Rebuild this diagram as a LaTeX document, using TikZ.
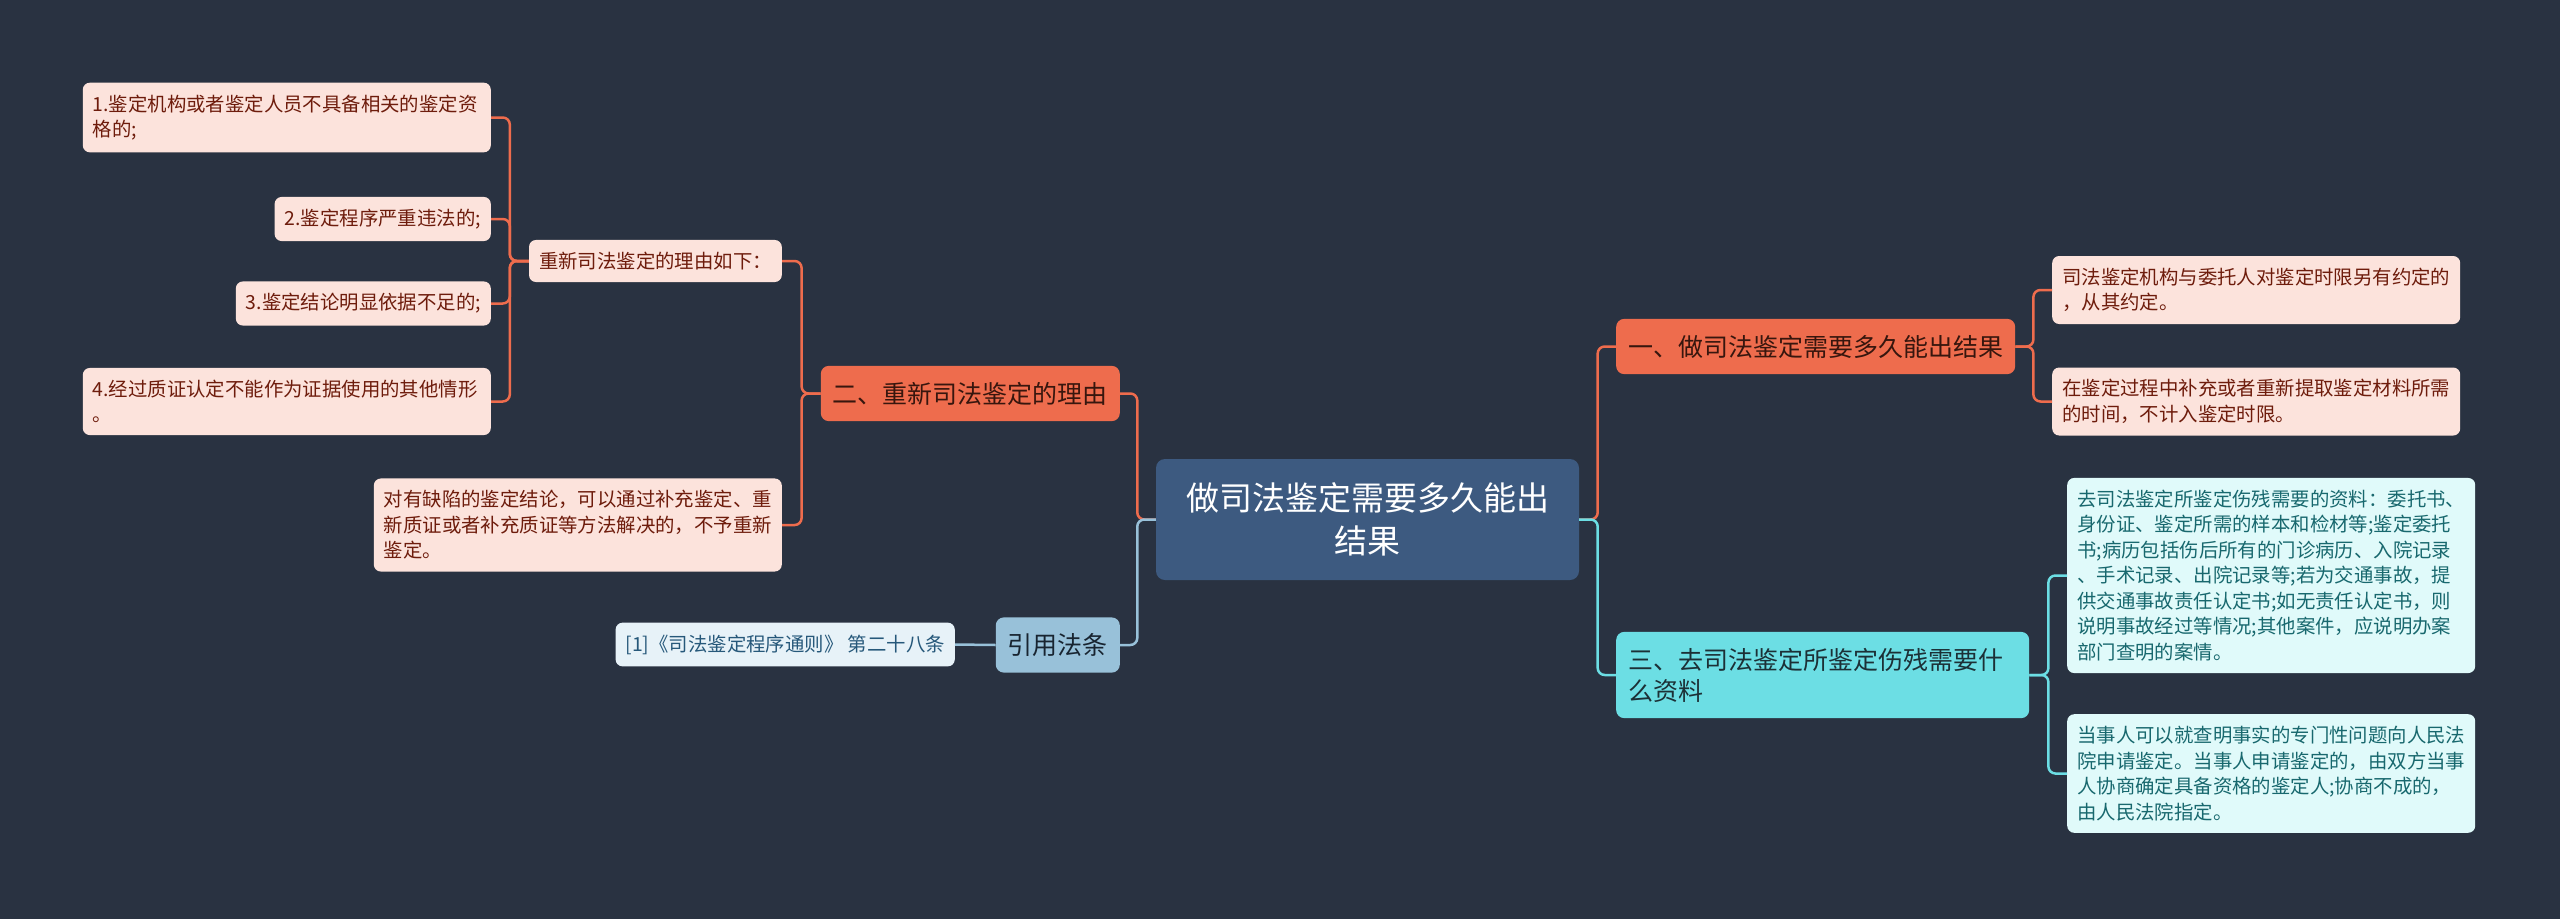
\documentclass[tikz,border=0pt]{standalone}
\usepackage{fontspec}
\setmainfont{Noto Sans CJK SC}
\usetikzlibrary{positioning, calc}
\definecolor{mapbg}{RGB}{41, 50, 65}
\definecolor{rootblue}{RGB}{61, 90, 128}
\definecolor{burnt}{RGB}{238, 108, 77}
\definecolor{burntleaf}{RGB}{252, 227, 220}
\definecolor{burnttext}{RGB}{110, 28, 12}
\definecolor{burntdark}{RGB}{55, 22, 14}
\definecolor{aqua}{RGB}{108, 222, 228}
\definecolor{aqualeaf}{RGB}{224, 250, 250}
\definecolor{aquatext}{RGB}{24, 104, 110}
\definecolor{aquadark}{RGB}{28, 48, 54}
\definecolor{skyblue}{RGB}{152, 193, 217}
\definecolor{skyleaf}{RGB}{231, 242, 248}
\definecolor{skytext}{RGB}{38, 88, 122}
\definecolor{skydark}{RGB}{24, 36, 48}

\newcommand{\leaffont}{\fontsize{19.4pt}{25.5pt}\selectfont\parindent=0pt}
\newcommand{\branchfont}{\fontsize{25pt}{31pt}\selectfont\parindent=0pt}
\newcommand{\rootfont}{\fontsize{33pt}{43pt}\selectfont}

\tikzset{
  rootnode/.style={fill=rootblue, text=white, rounded corners=9pt, align=center,
    minimum width=423pt, minimum height=121pt, font=\rootfont},
  branchnode/.style={rounded corners=8pt, align=left, inner xsep=12pt, inner ysep=16pt, font=\branchfont},
  leafnode/.style={rounded corners=7pt, align=left, inner xsep=10pt, inner ysep=12pt, font=\leaffont},
  wideleaf/.style={leafnode, text width=388pt},
  burntbranch/.style={branchnode, fill=burnt, text=burntdark},
  aquabranch/.style={branchnode, fill=aqua, text=aquadark},
  skybranch/.style={branchnode, fill=skyblue, text=skydark},
  burntleafnode/.style={fill=burntleaf, text=burnttext},
  aqualeafnode/.style={fill=aqualeaf, text=aquatext},
  skyleafnode/.style={fill=skyleaf, text=skytext},
  link/.style={line width=2.5pt, rounded corners=7pt},
  burntline/.style={link, draw=burnt},
  aqualine/.style={link, draw=aqua},
  skyline/.style={link, draw=skyblue}
}

\begin{document}
\begin{tikzpicture}[x=1pt, y=-1pt]
    \fill[mapbg] (0,0) rectangle (2560,919);
    \useasboundingbox (0,0) rectangle (2560,919);

    % centre
    \node[rootnode] (root) at (1367.5,519.5) {做司法鉴定需要多久能出\\结果};

    % right side
    \node[burntbranch, anchor=west] (howlong) at (1616,346.5) {一、做司法鉴定需要多久能出结果};
    \node[wideleaf, burntleafnode, anchor=west] (agreed) at (2052,290)
        {司法鉴定机构与委托人对鉴定时限另有约定的\\，从其约定。};
    \node[wideleaf, burntleafnode, anchor=west] (extratime) at (2052,401.5)
        {在鉴定过程中补充或者重新提取鉴定材料所需\\的时间，不计入鉴定时限。};

    \node[aquabranch, text width=389pt, anchor=west] (material) at (1616,675)
        {三、去司法鉴定所鉴定伤残需要什\\么资料};
    \node[wideleaf, aqualeafnode, anchor=west] (papers) at (2067,575.5)
        {去司法鉴定所鉴定伤残需要的资料：委托书、\\身份证、鉴定所需的样本和检材等;鉴定委托\\书;病历包括伤后所有的门诊病历、入院记录\\、手术记录、出院记录等;若为交通事故，提\\供交通事故责任认定书;如无责任认定书，则\\说明事故经过等情况;其他案件，应说明办案\\部门查明的案情。};
    \node[wideleaf, aqualeafnode, anchor=west] (apply) at (2067,773.5)
        {当事人可以就查明事实的专门性问题向人民法\\院申请鉴定。当事人申请鉴定的，由双方当事\\人协商确定具备资格的鉴定人;协商不成的，\\由人民法院指定。};

    % left side
    \node[burntbranch, anchor=east] (reason) at (1120,393.5) {二、重新司法鉴定的理由};
    \node[leafnode, burntleafnode, anchor=east] (reasonlist) at (782,261) {重新司法鉴定的理由如下：};
    \node[wideleaf, burntleafnode, anchor=east] (rone) at (491,117.5)
        {1.鉴定机构或者鉴定人员不具备相关的鉴定资\\格的;};
    \node[leafnode, burntleafnode, anchor=east] (rtwo) at (491,219) {2.鉴定程序严重违法的;};
    \node[leafnode, burntleafnode, anchor=east] (rthree) at (491,303.5) {3.鉴定结论明显依据不足的;};
    \node[wideleaf, burntleafnode, anchor=east] (rfour) at (491,401.5)
        {4.经过质证认定不能作为证据使用的其他情形\\。};
    \node[wideleaf, burntleafnode, anchor=east] (defect) at (782,525)
        {对有缺陷的鉴定结论，可以通过补充鉴定、重\\新质证或者补充质证等方法解决的，不予重新\\鉴定。};

    \node[skybranch, anchor=east] (cite) at (1120,645) {引用法条};
    \node[leafnode, skyleafnode, anchor=east] (article) at (955,644.5) {[1]《司法鉴定程序通则》 第二十八条};

    % connectors
    \draw[burntline] (root.west) -- ++(-18.5,0) |- (reason.east);
    \draw[skyline] (root.west) -- ++(-18.5,0) |- (cite.east);
    \draw[burntline] (root.east) -- ++(18.5,0) |- (howlong.west);
    \draw[aqualine] (root.east) -- ++(18.5,0) |- (material.west);

    \foreach \leaf in {agreed, extratime}
        \draw[burntline] (howlong.east) -- ++(18,0) |- (\leaf.west);
    \foreach \leaf in {papers, apply}
        \draw[aqualine] (material.east) -- ++(19,0) |- (\leaf.west);
    \foreach \leaf in {reasonlist, defect}
        \draw[burntline] (reason.west) -- ++(-19,0) |- (\leaf.east);
    \foreach \leaf in {rone, rtwo, rthree, rfour}
        \draw[burntline] (reasonlist.west) -- ++(-19,0) |- (\leaf.east);
    \draw[skyline] (cite.west) -- (article.east);
\end{tikzpicture}
\end{document}
